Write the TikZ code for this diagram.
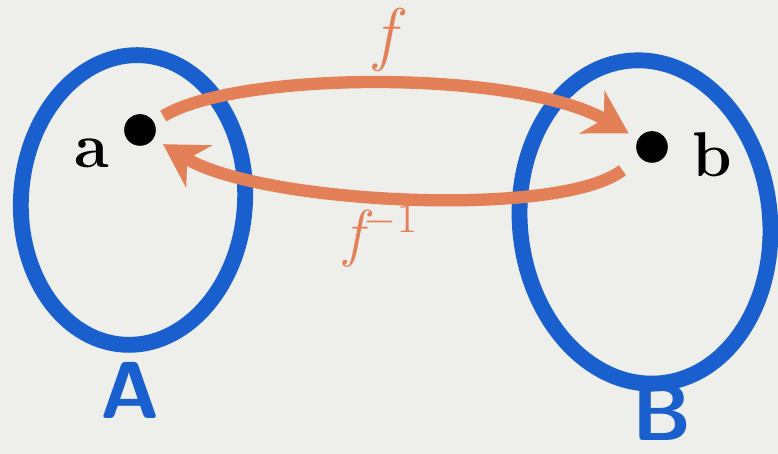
\documentclass[tikz,border=0pt]{standalone}
\usetikzlibrary{shapes.geometric,arrows.meta}
\definecolor{setblue}{RGB}{25,95,205}
\definecolor{maporange}{RGB}{228,128,88}
\definecolor{paper}{RGB}{238,238,234}
\tikzset{
  setring/.style={draw=setblue,line width=4.5pt,ellipse,inner sep=0pt},
  elem/.style={circle,fill=black,inner sep=0pt,minimum size=9pt},
  maparrow/.style={draw=maporange,line width=3.5pt,-{Stealth[length=12pt,width=14pt]}},
}
\begin{document}
\begin{tikzpicture}[x=1cm,y=1cm]
  \fill[paper] (0,0) rectangle (7.78,4.54);
  \useasboundingbox (0,0) rectangle (7.78,4.54);
  % the two sets
  \node[setring,minimum width=2.24cm,minimum height=2.9cm,rotate=-4] (setA) at (1.33,2.54) {};
  \node[setring,minimum width=2.5cm,minimum height=3.24cm,rotate=6] (setB) at (6.45,2.32) {};
  \node[text=setblue,font=\fontsize{23}{23}\sffamily\bfseries] (labA) at (1.30,0.64) {A};
  \node[text=setblue,font=\fontsize{23}{23}\sffamily\bfseries] (labB) at (6.62,0.42) {B};
  % elements
  \node[elem] (a) at (1.40,3.24) {};
  \node[elem] (b) at (6.52,3.07) {};
  \node[font=\fontsize{18}{18}\bfseries] (laba) at (0.92,3.01) {a};
  \node[font=\fontsize{18}{18}\bfseries] (labb) at (7.12,2.99) {b};
  % the map and its inverse
  \draw[maparrow,shorten <=3pt,shorten >=3pt] (a) .. controls (2.4,3.84) and (5.2,3.84) .. (b);
  \draw[maparrow,shorten <=6pt,shorten >=3pt] (b) .. controls (5.6,2.35) and (2.6,2.5) .. (a);
  \node[text=maporange,font=\fontsize{20}{20}\itshape] (labf) at (3.85,4.14) {f};
  \node[text=maporange,font=\fontsize{18}{18}\itshape] (labfi) at (3.82,2.18) {f$^{-1}$};
\end{tikzpicture}
\end{document}
